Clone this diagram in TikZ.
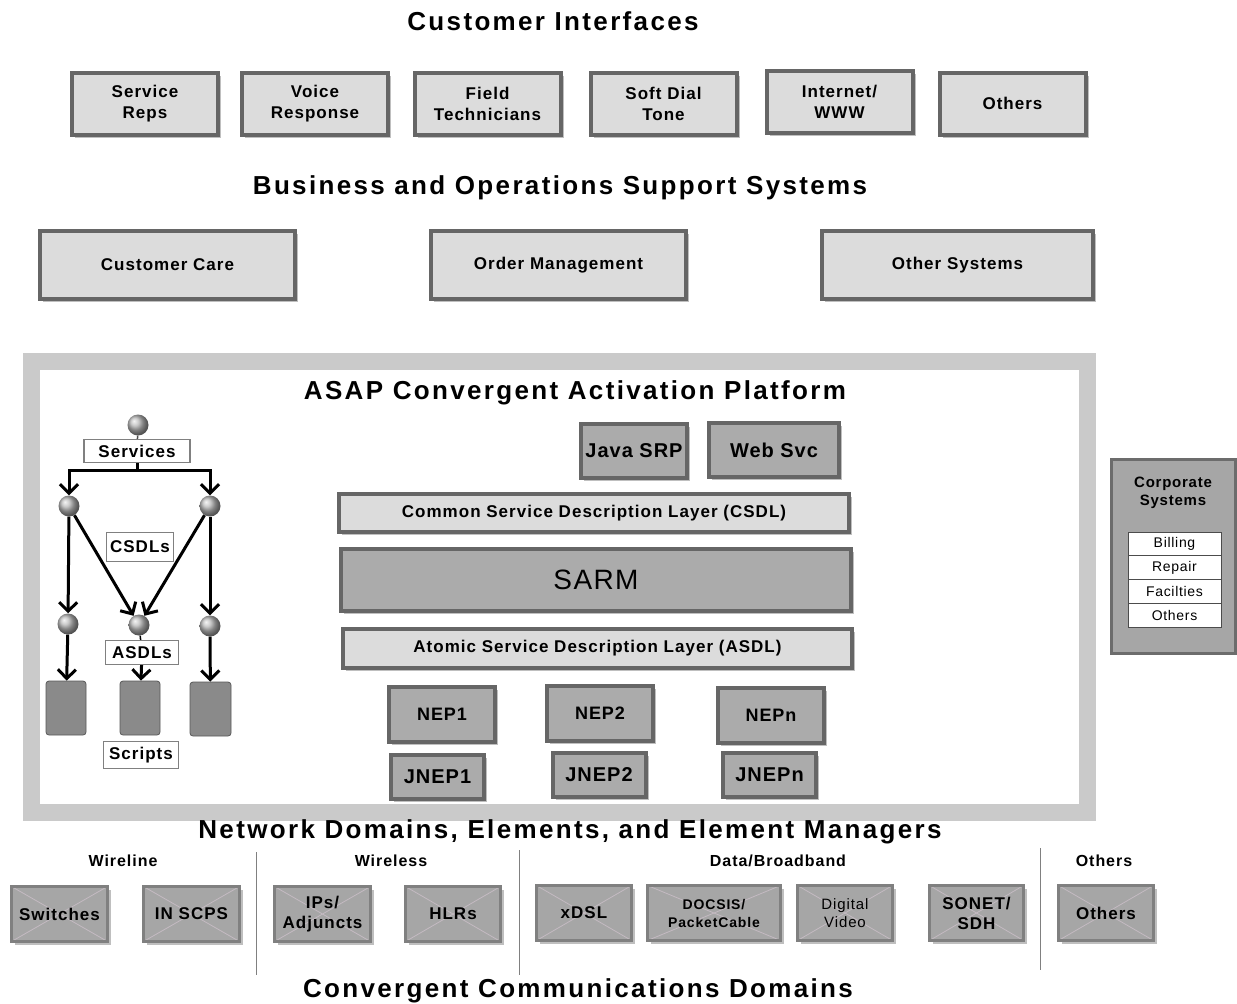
\documentclass[tikz,border=0pt]{standalone}
\usepackage{fontspec}
\setmainfont{Liberation Sans}[LetterSpace=6]
\newfontfamily\ttlfont{Liberation Sans}[LetterSpace=9]
\newfontfamily\plainfont{Liberation Sans}[LetterSpace=5]
\usetikzlibrary{arrows.meta,shadows}
\definecolor{lightf}{HTML}{DCDCDC}
\definecolor{bordc}{HTML}{666666}
\definecolor{midf}{HTML}{ABABAB}
\definecolor{darkf}{HTML}{8A8A8A}
\definecolor{bandc}{HTML}{CACACA}
\definecolor{nfill}{HTML}{A6A6A6}
\definecolor{nbord}{HTML}{808080}
\definecolor{xlc}{HTML}{C4BAC2}
\definecolor{corpf}{HTML}{A6A6A6}
\newcommand\fs[2]{\fontsize{#1}{#2}\selectfont}
\tikzset{
  shad/.style={drop shadow={shadow xshift=3pt, shadow yshift=-3pt, opacity=0.25, fill=black}},
  lbox/.style={draw=bordc, line width=4pt, fill=lightf, align=center, inner sep=0pt,
               font=\fs{17}{21}\bfseries, shad},
  mbox/.style={draw=bordc, line width=4pt, fill=midf, align=center, inner sep=0pt, shad},
  ttl/.style={font=\ttlfont\fs{26}{30}\bfseries, anchor=base, inner sep=0pt},
  tlab/.style={draw=gray, line width=1.2pt, fill=white, inner sep=0pt, font=\fs{17}{20}\bfseries},
  ball/.style={circle, minimum size=21pt, inner sep=0pt, ball color=gray!55},
  scr/.style={fill=darkf, draw=gray!70!black, rounded corners=3pt, line width=0.8pt},
  conn/.style={line width=3pt, black},
  arr/.style={line width=3pt, black, -{Straight Barb[length=9pt,width=18pt]}},
  cbox/.style={draw=gray!85!black, line width=3pt, fill=corpf, inner sep=0pt},
  crow/.style={draw=gray!60!black, line width=0.8pt, fill=white, inner sep=0pt,
               minimum width=93pt, minimum height=23.7pt, font=\plainfont\fs{14}{16}},
  cat/.style={font=\fs{16}{20}\bfseries},
  sep/.style={gray, line width=1pt},
  nbox/.style={draw=nbord, line width=3.5pt, fill=nfill, align=center, inner sep=0pt,
               font=\fs{17}{20}\bfseries, minimum height=55pt, shad,
               path picture={\draw[xlc, line width=0.8pt]
                 (path picture bounding box.north west) -- (path picture bounding box.south east)
                 (path picture bounding box.north east) -- (path picture bounding box.south west);}},
}
\begin{document}
\begin{tikzpicture}[x=1pt,y=-1pt]
\useasboundingbox (0,0) rectangle (1237,1004);
\fill[white] (0,0) rectangle (1237,1004);

% titles
\node[ttl] (tci) at (553,30) {Customer Interfaces};
\node[ttl] (tbo) at (560,194) {Business and Operations Support Systems};

% customer interfaces
\begin{scope}[every node/.append style={minimum width=146pt, minimum height=62pt}]
\node[lbox] (srep) at (145,104) {Service\\Reps};
\node[lbox] (vresp) at (315,104) {Voice\\Response};
\node[lbox] (ftech) at (487.5,104) {Field\\Technicians};
\node[lbox] (sdt) at (663.5,104) {Soft Dial\\Tone};
\node[lbox] (www) at (839.5,102) {Internet/\\WWW};
\node[lbox] (oth) at (1012.5,103.5) {Others};
\end{scope}

% BSS/OSS
\node[lbox, minimum width=255pt, minimum height=68pt] (ccare) at (167.5,265) {Customer Care};
\node[lbox, minimum width=255pt, minimum height=68pt] (omgmt) at (558.5,265) {Order Management};
\node[lbox, minimum width=271pt, minimum height=68pt] (osys) at (957.5,265) {Other Systems};

% ASAP frame
\draw[bandc, line width=17pt] (31,361) rectangle (1087.5,812.5);
\node[ttl] (tasap) at (575,399) {ASAP Convergent Activation Platform};

\node[mbox, font=\plainfont\fs{20}{24}\bfseries, minimum width=106pt, minimum height=54pt] (jsrp) at (634,451) {Java SRP};
\node[mbox, font=\plainfont\fs{20}{24}\bfseries, minimum width=130pt, minimum height=54pt] (wsvc) at (774,450) {Web Svc};
\node[lbox, minimum width=510pt, minimum height=38pt] (csdl) at (594,513) {Common Service Description Layer (CSDL)};
\node[mbox, font=\plainfont\fs{28}{32}, minimum width=510pt, minimum height=62pt] (sarm) at (596,580) {SARM};
\node[lbox, minimum width=509pt, minimum height=39pt] (asdl) at (597.5,648.5) {Atomic Service Description Layer (ASDL)};

\begin{scope}[every node/.append style={font=\plainfont\fs{18}{22}\bfseries, minimum width=106pt, minimum height=55pt}]
\node[mbox] (nep1) at (442,714.5) {NEP1};
\node[mbox] (nep2) at (600,713.5) {NEP2};
\node[mbox] (nepn) at (771,715) {NEPn};
\end{scope}
\begin{scope}[every node/.append style={font=\plainfont\fs{20}{24}\bfseries, minimum width=93pt, minimum height=44pt}]
\node[mbox] (jnep1) at (437.5,777) {JNEP1};
\node[mbox] (jnep2) at (599,775) {JNEP2};
\node[mbox] (jnepn) at (769.5,775) {JNEPn};
\end{scope}

% left tree
\node[ball] (b0) at (138,425) {};
\node[tlab, minimum width=106pt, minimum height=23pt] (svc) at (137,451) {Services};
\node[ball] (bL) at (69,506) {};
\node[ball] (bR) at (210,506) {};
\node[tlab, minimum width=67pt, minimum height=29pt] (csdls) at (140,547) {CSDLs};
\node[ball] (bL2) at (68,624) {};
\node[ball] (bM2) at (139,625) {};
\node[ball] (bR2) at (210,626) {};
\node[tlab, minimum width=73pt, minimum height=24pt] (asdls) at (142,652.5) {ASDLs};
\node[scr, minimum width=40pt, minimum height=54pt] (k1) at (66,708) {};
\node[scr, minimum width=40pt, minimum height=54pt] (k2) at (140,708) {};
\node[scr, minimum width=41pt, minimum height=54pt] (k3) at (210.5,709) {};
\node[tlab, minimum width=75pt, minimum height=27pt] (scripts) at (141,755) {Scripts};

\draw[line width=1.5pt, gray!60!black] (b0) -- (svc);
\coordinate (bar) at (137,470);
\draw[conn] (svc.south) -- (bar);
\draw[arr] (bar) -| (bL.north);
\draw[arr] (bar) -| (bR.north);
\draw[arr] (bL) -- (bL2);
\draw[arr] (bL) -- (bM2);
\draw[arr] (bR) -- (bM2);
\draw[arr] (bR) -- (bR2);
\draw[line width=1.5pt] (bM2) -- (asdls);
\draw[arr] (bL2) -- (k1);
\draw[arr] (asdls) -- (k2);
\draw[arr] (bR2) -- (k3);

% corporate systems
\node[cbox, minimum width=124pt, minimum height=194pt] (corp) at (1173.5,556.5) {};
\node[font=\plainfont\fs{15}{18}\bfseries, align=center] (corpt) at (1173,493) {Corporate\\Systems};
\node[crow] (cr1) at (1174.5,544) {Billing};
\node[crow] (cr2) at (1174.5,567.7) {Repair};
\node[crow] (cr3) at (1174.5,591.4) {Facilties};
\node[crow] (cr4) at (1174.5,615.1) {Others};

% network domains
\node[ttl] (tnd) at (570,838) {Network Domains, Elements, and Element Managers};
\node[cat] (cwl) at (123,861) {Wireline};
\node[cat] (cws) at (391,861) {Wireless};
\node[cat] (cdb) at (778,861) {Data/Broadband};
\node[cat] (cot) at (1104,861) {Others};
\draw[sep] (256,852) -- (256,975);
\draw[sep] (519,850) -- (519,975);
\draw[sep] (1040,848) -- (1040,970);

\node[nbox, minimum width=96pt] (sw) at (59.5,914) {Switches};
\node[nbox, minimum width=96pt] (inscp) at (191.5,914) {IN SCPS};
\node[nbox, minimum width=96pt] (ips) at (322.5,914) {IPs/\\Adjuncts};
\node[nbox, minimum width=95pt] (hlr) at (453,914) {HLRs};
\node[nbox, minimum width=95pt] (xdsl) at (584,913) {xDSL};
\node[nbox, minimum width=133pt, font=\fs{14}{18}\bfseries] (docsis) at (714,913) {DOCSIS/\\PacketCable};
\node[nbox, minimum width=95pt, font=\fs{15}{18}] (dvid) at (845,913) {Digital\\Video};
\node[nbox, minimum width=94pt] (sonet) at (976.5,913) {SONET/\\SDH};
\node[nbox, minimum width=95pt] (oth2) at (1106,913) {Others};

\node[ttl] (tccd) at (578,997) {Convergent Communications Domains};
\end{tikzpicture}
\end{document}
